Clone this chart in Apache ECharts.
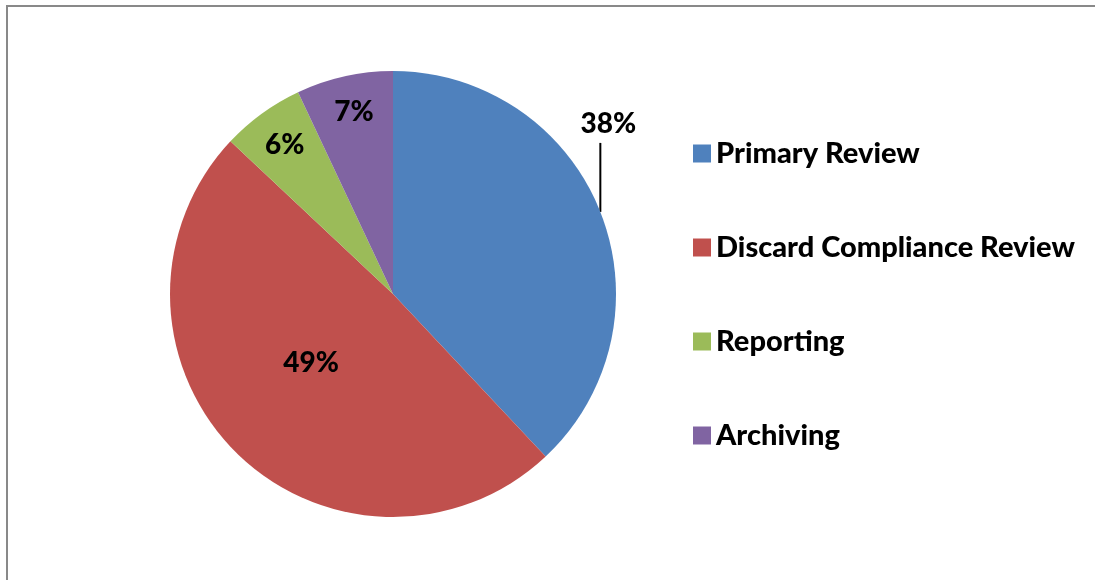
<!DOCTYPE html>
<html>
<head>
<meta charset="utf-8">
<script src="https://cdn.jsdelivr.net/npm/echarts@6/dist/echarts.min.js"></script>
<style>
  html, body { margin: 0; padding: 0; background: #fff; }
  #chart { width: 1095px; height: 580px; }
</style>
</head>
<body>
<div id="chart"></div>
<script>
const categories = ["Primary Review", "Discard Compliance Review", "Reporting", "Archiving"];
const shares = [38, 49, 6, 7];
const colors = ["#4F81BD", "#C0504D", "#9BBB59", "#8064A2"];

const fontFamily = "Lato, 'Open Sans', sans-serif";

// Excel puts the small slice labels near the rim, not at mid radius
const labelShift = [null, [-1, -12], [-41, -56], [-14, -70]];

const chart = echarts.init(document.getElementById("chart"));

chart.setOption({
  animation: false,
  color: colors,
  graphic: [
    {
      type: "rect",
      shape: { x: 7, y: 6, width: 1200, height: 700 },
      style: { fill: "none", stroke: "#898989", lineWidth: 2 },
      silent: true,
    },
  ],
  legend: {
    orient: "vertical",
    left: 688,
    top: 134,
    icon: "rect",
    itemWidth: 18,
    itemHeight: 18,
    itemGap: 65,
    data: categories,
    textStyle: {
      fontFamily,
      fontSize: 29,
      fontWeight: 900,
      color: "#000",
      lineHeight: 28,
      padding: 0,
    },
  },
  series: [
    {
      type: "pie",
      center: [393, 294],
      radius: 223,
      startAngle: 90,
      clockwise: true,
      label: {
        position: "inner",
        formatter: "{c}%",
        fontFamily,
        fontSize: 28,
        fontWeight: 900,
        color: "#000",
      },
      labelLine: { show: true, length: 20, length2: 0, lineStyle: { color: "#000", width: 2 } },
      labelLayout: function (params) {
        if (params.dataIndex !== 0 || !params.labelLinePoints) return;
        const p = params.labelLinePoints[0];
        return {
          x: p[0] + 8,
          y: p[1] - 88,
          align: "center",
          verticalAlign: "middle",
          labelLinePoints: [[p[0], p[1]], [p[0], p[1] - 69], [p[0], p[1] - 69]],
        };
      },
      data: categories.map((name, i) => {
        const item = { name, value: shares[i] };
        if (i === 0) {
          item.label = { position: "outside" };
        } else {
          item.labelLine = { show: false };
          if (labelShift[i]) item.label = { offset: labelShift[i] };
        }
        return item;
      }),
    },
  ],
});
</script>
</body>
</html>
